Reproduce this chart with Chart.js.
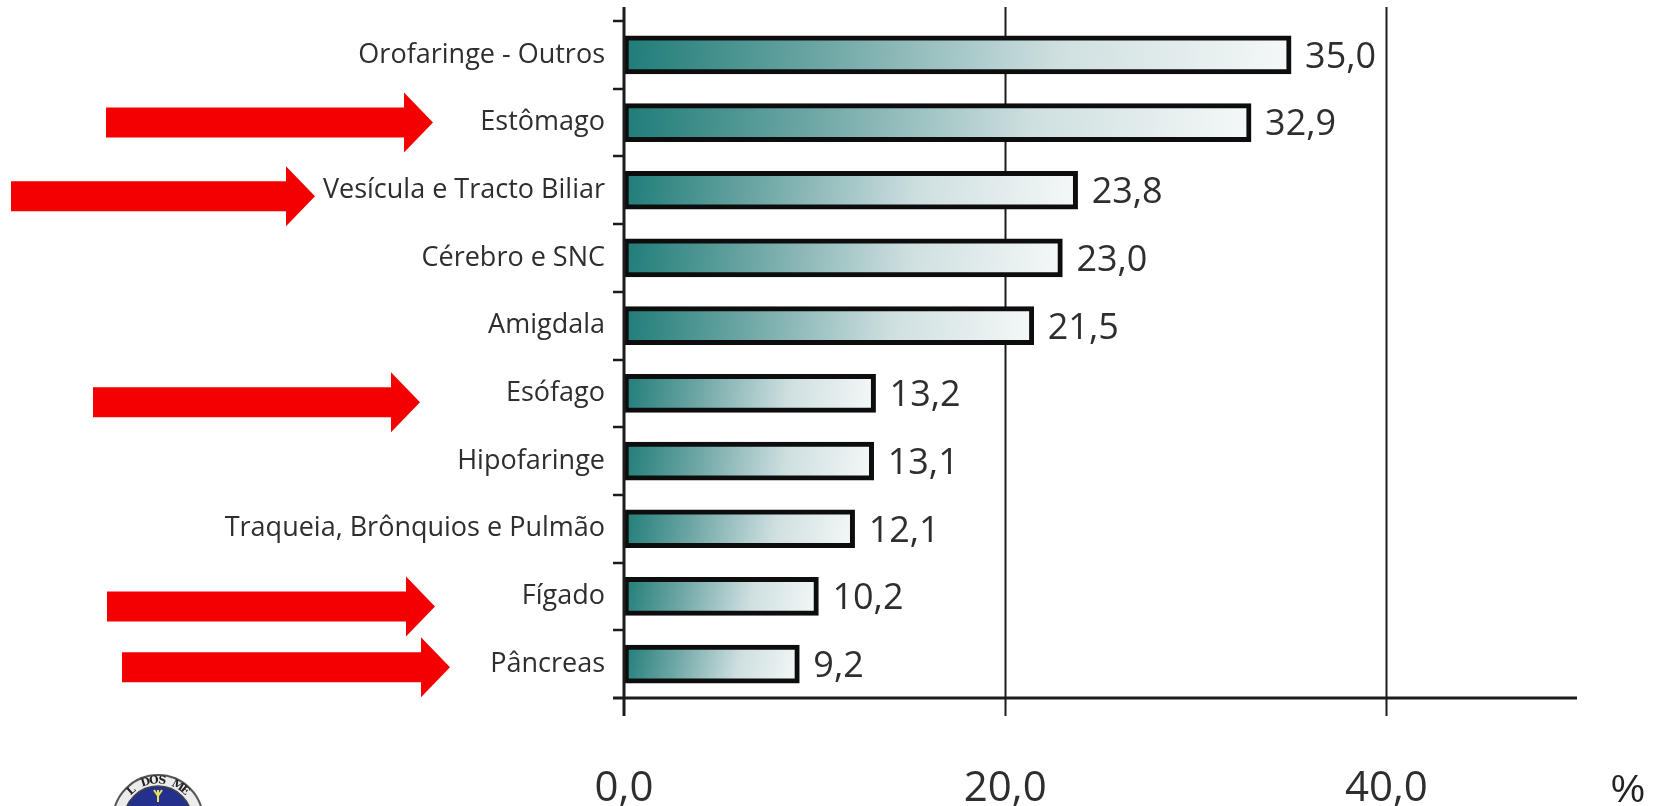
<!DOCTYPE html>
<html lang="pt">
<head>
<meta charset="utf-8">
<title>Localizações de cancro (%)</title>
<script src="https://cdn.jsdelivr.net/npm/chart.js@4.4.1/dist/chart.umd.min.js"></script>
<style>
  html, body { margin: 0; padding: 0; background: #fff; }
  #wrap { width: 1658px; height: 806px; position: relative; }
</style>
</head>
<body>
<div id="wrap"><canvas id="chart" width="1658" height="806"></canvas></div>
<script>
// localizações e percentagens
const categories = [
  'Orofaringe - Outros', 'Estômago', 'Vesícula e Tracto Biliar', 'Cérebro e SNC',
  'Amigdala', 'Esófago', 'Hipofaringe', 'Traqueia, Brônquios e Pulmão', 'Fígado', 'Pâncreas'
];
const values = [35.0, 32.9, 23.8, 23.0, 21.5, 13.2, 13.1, 12.1, 10.2, 9.2];
const xTicks = [0, 20, 40];
const xMax = 50;
const unitLabel = '%';
// localizações assinaladas com seta
const highlighted = ['Estômago', 'Vesícula e Tracto Biliar', 'Esófago', 'Fígado', 'Pâncreas'];

// geometria das setas (px): início, ponta, desvio vertical
const arrowLayout = {
  'Estômago':                 { from: 106, tip: 433, dy: 0 },
  'Vesícula e Tracto Biliar': { from: 11,  tip: 315, dy: 6 },
  'Esófago':                  { from: 93,  tip: 420, dy: 9 },
  'Fígado':                   { from: 107, tip: 435, dy: 10 },
  'Pâncreas':                 { from: 122, tip: 450, dy: 3 }
};

const fmt = v => v.toFixed(1).replace('.', ',');
const INK = '#1c1c1c';
const TEXT = '#2e2e2e';
const BAR_H = 38;

// degradê de cada barra: verde-azulado à esquerda até quase branco
function barFill(c) {
  const chart = c.chart;
  if (!chart.chartArea || c.type !== 'data') return '#8fb8b6';
  const { x, y } = chart.scales;
  const x0 = x.getPixelForValue(0);
  const x1 = x.getPixelForValue(c.raw);
  const yc = y.getPixelForValue(c.dataIndex);
  const g = chart.ctx.createLinearGradient(x0, yc - BAR_H / 2, x1, yc + BAR_H / 2);
  g.addColorStop(0, '#1f7c78');
  g.addColorStop(0.3, '#6ea7a5');
  g.addColorStop(0.65, '#cfdfe0');
  g.addColorStop(1, '#f5f8f8');
  return g;
}

function line(ctx, x1, y1, x2, y2) {
  ctx.beginPath();
  ctx.moveTo(x1, y1);
  ctx.lineTo(x2, y2);
  ctx.stroke();
}

const gridBehind = {
  id: 'gridBehind',
  beforeDatasetsDraw(chart) {
    const { ctx, chartArea: a, scales: { x } } = chart;
    ctx.save();
    ctx.strokeStyle = INK;
    ctx.lineWidth = 2;
    xTicks.slice(1).forEach(v => {
      const px = Math.round(x.getPixelForValue(v)) + 0.5;
      line(ctx, px, a.top - 14, px, a.bottom + 18);
    });
    ctx.restore();
  }
};

const axesAndLabels = {
  id: 'axesAndLabels',
  afterDatasetsDraw(chart) {
    const { ctx, chartArea: a, scales: { x, y } } = chart;
    ctx.save();
    ctx.strokeStyle = INK;
    // eixo vertical e horizontal
    ctx.lineWidth = 3;
    line(ctx, a.left, a.top - 14, a.left, a.bottom + 18);
    line(ctx, a.left - 11, a.bottom, a.right, a.bottom);
    // marcas entre categorias
    ctx.lineWidth = 2.5;
    for (let i = 0; i < categories.length; i++) {
      const py = Math.round(y.getPixelForValue(i - 0.5));
      line(ctx, a.left - 11, py, a.left, py);
    }
    // valores à direita das barras
    ctx.fillStyle = TEXT;
    ctx.font = '36px "Open Sans"';
    ctx.textAlign = 'left';
    ctx.textBaseline = 'alphabetic';
    chart.getDatasetMeta(0).data.forEach((bar, i) => {
      ctx.fillText(fmt(values[i]), bar.x + 14, bar.y + 36 * 0.357);
    });
    // unidade do eixo
    ctx.fillStyle = '#222';
    ctx.font = '38px "Liberation Sans"';
    ctx.textAlign = 'center';
    ctx.fillText(unitLabel, 1628, 802);
    ctx.restore();
  }
};

const arrows = {
  id: 'arrows',
  afterDraw(chart) {
    const { ctx, scales: { y } } = chart;
    ctx.save();
    ctx.fillStyle = '#f40000';
    highlighted.forEach(name => {
      const s = arrowLayout[name];
      const cy = y.getPixelForValue(categories.indexOf(name)) + s.dy;
      const head = 29, shaft = 15, wing = 30;
      ctx.beginPath();
      ctx.moveTo(s.from, cy - shaft);
      ctx.lineTo(s.tip - head, cy - shaft);
      ctx.lineTo(s.tip - head, cy - wing);
      ctx.lineTo(s.tip, cy);
      ctx.lineTo(s.tip - head, cy + wing);
      ctx.lineTo(s.tip - head, cy + shaft);
      ctx.lineTo(s.from, cy + shaft);
      ctx.closePath();
      ctx.fill();
    });
    ctx.restore();
  }
};

// selo no canto inferior esquerdo
const seal = {
  id: 'seal',
  afterDraw(chart) {
    const ctx = chart.ctx;
    const cx = 158, cy = 820, r = 45;
    ctx.save();
    ctx.beginPath();
    ctx.arc(cx, cy, r, 0, Math.PI * 2);
    ctx.fillStyle = '#ececec';
    ctx.fill();
    ctx.lineWidth = 2;
    ctx.strokeStyle = '#555';
    ctx.stroke();
    ctx.beginPath();
    ctx.arc(cx, cy, r - 11, 0, Math.PI * 2);
    ctx.fillStyle = '#23308c';
    ctx.fill();
    ctx.strokeStyle = '#444';
    ctx.lineWidth = 1.5;
    ctx.stroke();
    // texto em arco
    ctx.fillStyle = '#222';
    ctx.font = 'bold 11px "DejaVu Serif"';
    ctx.textAlign = 'center';
    ctx.textBaseline = 'middle';
    const text = 'L DOS ME';
    const step = 0.21;
    [...text].forEach((ch, i) => {
      const ang = -Math.PI / 2 + (i - (text.length - 1) / 2) * step;
      ctx.save();
      ctx.translate(cx + Math.cos(ang) * (r - 5.5), cy + Math.sin(ang) * (r - 5.5));
      ctx.rotate(ang + Math.PI / 2);
      ctx.fillText(ch, 0, 0);
      ctx.restore();
    });
    // símbolo central
    ctx.strokeStyle = '#e8e25a';
    ctx.lineWidth = 2;
    line(ctx, cx, cy - 18, cx, cy - 30);
    line(ctx, cx, cy - 24, cx - 4, cy - 30);
    line(ctx, cx, cy - 24, cx + 4, cy - 30);
    ctx.restore();
  }
};

new Chart(document.getElementById('chart'), {
  type: 'bar',
  data: {
    labels: categories,
    datasets: [{
      data: values,
      backgroundColor: barFill,
      borderColor: '#0d0d0d',
      borderWidth: 5,
      borderSkipped: false,
      barThickness: BAR_H
    }]
  },
  options: {
    indexAxis: 'y',
    responsive: false,
    animation: false,
    layout: { padding: { top: 21, right: 81, left: 0, bottom: 0 } },
    plugins: { legend: { display: false }, tooltip: { enabled: false } },
    scales: {
      x: {
        min: 0,
        max: xMax,
        afterBuildTicks: s => { s.ticks = xTicks.map(v => ({ value: v })); },
        afterFit: s => { s.height = 108; s.paddingLeft = 0; s.paddingRight = 0; },
        grid: { display: false, drawTicks: false },
        border: { display: false },
        ticks: {
          padding: 66,
          color: TEXT,
          font: { family: 'Open Sans', size: 42 },
          callback: v => fmt(v)
        }
      },
      y: {
        afterFit: s => { s.width = 624; s.paddingTop = 0; s.paddingBottom = 0; },
        grid: { display: false, drawTicks: false },
        border: { display: false },
        ticks: {
          padding: 19,
          color: TEXT,
          font: { family: 'Open Sans', size: 27 }
        }
      }
    }
  },
  plugins: [gridBehind, axesAndLabels, arrows, seal]
});
</script>
</body>
</html>
